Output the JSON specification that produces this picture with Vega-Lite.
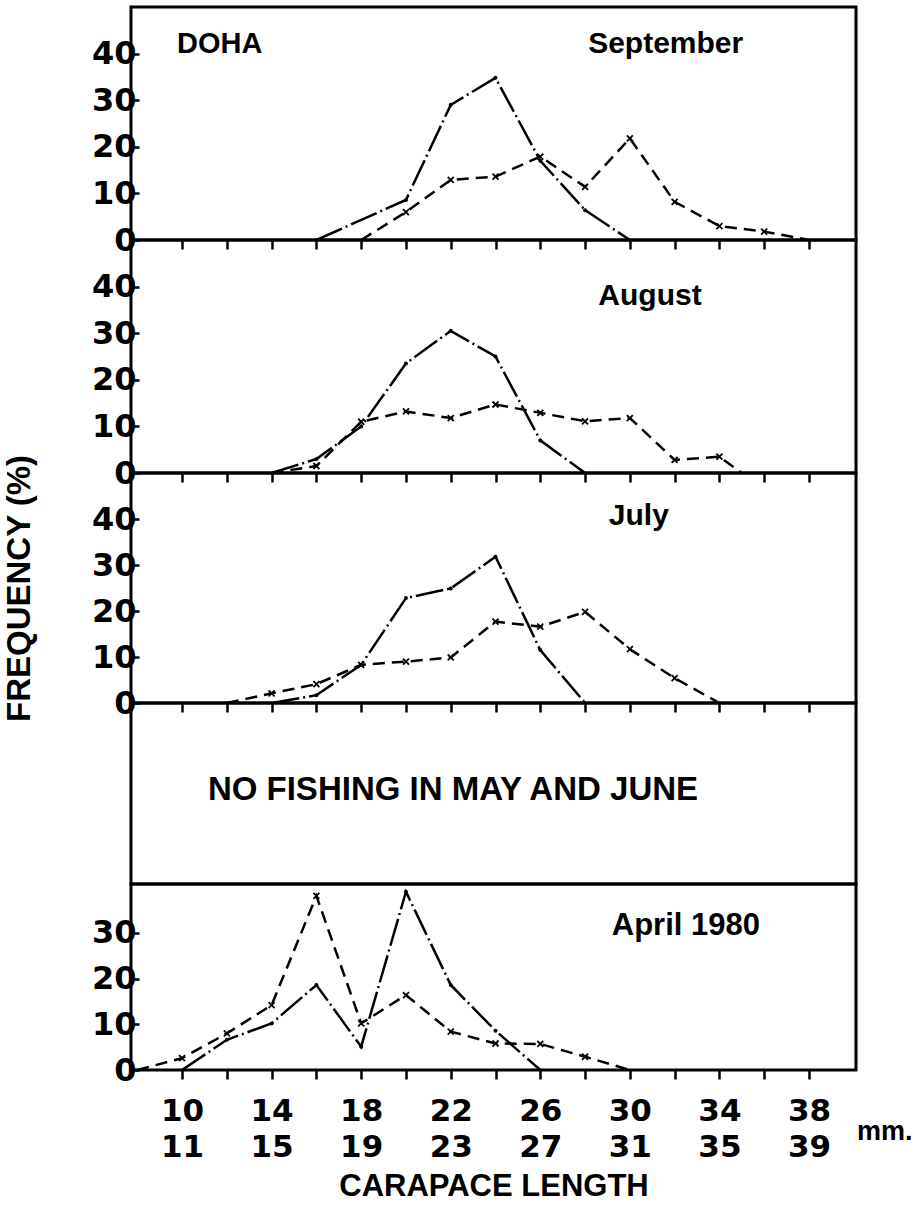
{
  "$schema": "https://vega.github.io/schema/vega-lite/v6.json",
  "background": "white",
  "padding": {"left": 1, "top": 5, "right": 0, "bottom": 0},
  "spacing": 0,
  "bounds": "flush",
  "config": {
    "view": {"stroke": "black", "strokeWidth": 3},
    "concat": {"spacing": 0},
    "axis": {
      "domain": false,
      "grid": false,
      "tickColor": "black",
      "tickWidth": 2.5,
      "labelColor": "black",
      "labelFont": "DejaVu Sans",
      "labelFontWeight": "bold",
      "labelFontSize": 32,
      "labelOverlap": false,
      "labelFlush": false,
      "titleColor": "black",
      "titleFont": "Liberation Sans",
      "titleFontWeight": "bold"
    },
    "line": {"color": "black", "strokeWidth": 2.5},
    "point": {"color": "black", "opacity": 1},
    "text": {"font": "Liberation Sans", "fontWeight": "bold", "fontSize": 30, "color": "black"}
  },
  "datasets": {
    "freq": [
      {"m": "Sep", "g": "a", "s": 16, "f": 0},
      {"m": "Sep", "g": "a", "s": 20, "f": 8.6},
      {"m": "Sep", "g": "a", "s": 22, "f": 29},
      {"m": "Sep", "g": "a", "s": 24, "f": 34.8},
      {"m": "Sep", "g": "a", "s": 26, "f": 17},
      {"m": "Sep", "g": "a", "s": 28, "f": 6.4},
      {"m": "Sep", "g": "a", "s": 30, "f": 0},
      {"m": "Sep", "g": "b", "s": 18, "f": 0},
      {"m": "Sep", "g": "b", "s": 20, "f": 6},
      {"m": "Sep", "g": "b", "s": 22, "f": 12.9},
      {"m": "Sep", "g": "b", "s": 24, "f": 13.6},
      {"m": "Sep", "g": "b", "s": 26, "f": 17.9},
      {"m": "Sep", "g": "b", "s": 28, "f": 11.4},
      {"m": "Sep", "g": "b", "s": 30, "f": 21.8},
      {"m": "Sep", "g": "b", "s": 32, "f": 8.2},
      {"m": "Sep", "g": "b", "s": 34, "f": 3},
      {"m": "Sep", "g": "b", "s": 36, "f": 1.8},
      {"m": "Sep", "g": "b", "s": 38, "f": 0},

      {"m": "Aug", "g": "a", "s": 14, "f": 0},
      {"m": "Aug", "g": "a", "s": 16, "f": 3},
      {"m": "Aug", "g": "a", "s": 18, "f": 10},
      {"m": "Aug", "g": "a", "s": 20, "f": 23.5},
      {"m": "Aug", "g": "a", "s": 22, "f": 30.5},
      {"m": "Aug", "g": "a", "s": 24, "f": 25},
      {"m": "Aug", "g": "a", "s": 26, "f": 7},
      {"m": "Aug", "g": "a", "s": 28, "f": 0},
      {"m": "Aug", "g": "b", "s": 14, "f": 0},
      {"m": "Aug", "g": "b", "s": 16, "f": 1.5},
      {"m": "Aug", "g": "b", "s": 18, "f": 11},
      {"m": "Aug", "g": "b", "s": 20, "f": 13.2},
      {"m": "Aug", "g": "b", "s": 22, "f": 11.8},
      {"m": "Aug", "g": "b", "s": 24, "f": 14.7},
      {"m": "Aug", "g": "b", "s": 26, "f": 12.9},
      {"m": "Aug", "g": "b", "s": 28, "f": 11.1},
      {"m": "Aug", "g": "b", "s": 30, "f": 11.8},
      {"m": "Aug", "g": "b", "s": 32, "f": 2.8},
      {"m": "Aug", "g": "b", "s": 34, "f": 3.5},
      {"m": "Aug", "g": "b", "s": 35, "f": 0},

      {"m": "Jul", "g": "a", "s": 14, "f": 0},
      {"m": "Jul", "g": "a", "s": 16, "f": 1.7},
      {"m": "Jul", "g": "a", "s": 18, "f": 8.3},
      {"m": "Jul", "g": "a", "s": 20, "f": 22.8},
      {"m": "Jul", "g": "a", "s": 22, "f": 24.9},
      {"m": "Jul", "g": "a", "s": 24, "f": 31.8},
      {"m": "Jul", "g": "a", "s": 26, "f": 11.5},
      {"m": "Jul", "g": "a", "s": 28, "f": 0},
      {"m": "Jul", "g": "b", "s": 12, "f": 0},
      {"m": "Jul", "g": "b", "s": 14, "f": 2.1},
      {"m": "Jul", "g": "b", "s": 16, "f": 4.1},
      {"m": "Jul", "g": "b", "s": 18, "f": 8.3},
      {"m": "Jul", "g": "b", "s": 20, "f": 9},
      {"m": "Jul", "g": "b", "s": 22, "f": 9.9},
      {"m": "Jul", "g": "b", "s": 24, "f": 17.7},
      {"m": "Jul", "g": "b", "s": 26, "f": 16.6},
      {"m": "Jul", "g": "b", "s": 28, "f": 19.8},
      {"m": "Jul", "g": "b", "s": 30, "f": 11.7},
      {"m": "Jul", "g": "b", "s": 32, "f": 5.4},
      {"m": "Jul", "g": "b", "s": 34, "f": 0},

      {"m": "Apr", "g": "a", "s": 10, "f": 0},
      {"m": "Apr", "g": "a", "s": 12, "f": 6.6},
      {"m": "Apr", "g": "a", "s": 14, "f": 10.2},
      {"m": "Apr", "g": "a", "s": 16, "f": 18.6},
      {"m": "Apr", "g": "a", "s": 18, "f": 5.1},
      {"m": "Apr", "g": "a", "s": 20, "f": 39},
      {"m": "Apr", "g": "a", "s": 22, "f": 18.6},
      {"m": "Apr", "g": "a", "s": 24, "f": 8.6},
      {"m": "Apr", "g": "a", "s": 26, "f": 0},
      {"m": "Apr", "g": "b", "s": 8, "f": 0},
      {"m": "Apr", "g": "b", "s": 10, "f": 2.6},
      {"m": "Apr", "g": "b", "s": 12, "f": 8},
      {"m": "Apr", "g": "b", "s": 14, "f": 14.2},
      {"m": "Apr", "g": "b", "s": 16, "f": 38.1},
      {"m": "Apr", "g": "b", "s": 18, "f": 10.2},
      {"m": "Apr", "g": "b", "s": 20, "f": 16.4},
      {"m": "Apr", "g": "b", "s": 22, "f": 8.4},
      {"m": "Apr", "g": "b", "s": 24, "f": 5.8},
      {"m": "Apr", "g": "b", "s": 26, "f": 5.7},
      {"m": "Apr", "g": "b", "s": 28, "f": 2.9},
      {"m": "Apr", "g": "b", "s": 30, "f": 0}
    ]
  },
  "vconcat": [
    {
      "width": 725,
      "height": 233,
      "layer": [
        {
          "data": {"name": "freq"},
          "transform": [{"filter": "datum.m == 'Sep'"}],
          "encoding": {
            "x": {"field": "s", "type": "quantitative",
                  "scale": {"domain": [7.72, 40.1], "nice": false, "zero": false},
                  "axis": {"values": [10,12,14,16,18,20,22,24,26,28,30,32,34,36,38], "labels": false, "tickSize": 9, "title": null}},
            "y": {"field": "f", "type": "quantitative",
                  "scale": {"domain": [0, 50], "nice": false},
                  "axis": {"values": [0,10,20,30,40], "tickSize": -8, "labelPadding": 3, "title": null}}
          },
          "layer": [
            {"transform": [{"filter": "datum.g == 'a'"}], "mark": {"type": "line", "strokeDash": [28, 4, 2, 4]}},
            {"transform": [{"filter": "datum.g == 'b'"}], "mark": {"type": "line", "strokeDash": [12, 7]}},
            {"transform": [{"filter": "datum.g == 'a' && datum.f > 0"}],
             "mark": {"type": "point", "shape": "circle", "filled": true, "size": 16}},
            {"transform": [{"filter": "datum.g == 'b' && datum.f > 0"}],
             "mark": {"type": "point", "shape": "M-1,-1L1,1M1,-1L-1,1", "filled": false, "size": 36, "strokeWidth": 1.8}}
          ]
        },
        {"data": {"values": [{}]},
         "mark": {"type": "text", "align": "left", "baseline": "alphabetic", "fontSize": 29},
         "encoding": {"x": {"datum": 9.78, "type": "quantitative"}, "y": {"datum": 40.2, "type": "quantitative"}, "text": {"value": "DOHA"}}},
        {"data": {"values": [{}]},
         "mark": {"type": "text", "align": "center", "baseline": "alphabetic", "fontSize": 30},
         "encoding": {"x": {"datum": 31.6, "type": "quantitative"}, "y": {"datum": 40.2, "type": "quantitative"}, "text": {"value": "September"}}}
      ]
    },
    {
      "width": 725,
      "height": 233,
      "layer": [
        {
          "data": {"name": "freq"},
          "transform": [{"filter": "datum.m == 'Aug'"}],
          "encoding": {
            "x": {"field": "s", "type": "quantitative",
                  "scale": {"domain": [7.72, 40.1], "nice": false, "zero": false},
                  "axis": {"values": [10,12,14,16,18,20,22,24,26,28,30,32,34,36,38], "labels": false, "tickSize": 9, "title": null}},
            "y": {"field": "f", "type": "quantitative",
                  "scale": {"domain": [0, 50], "nice": false},
                  "axis": {"values": [0,10,20,30,40], "tickSize": -8, "labelPadding": 3, "title": null}}
          },
          "layer": [
            {"transform": [{"filter": "datum.g == 'a'"}], "mark": {"type": "line", "strokeDash": [28, 4, 2, 4]}},
            {"transform": [{"filter": "datum.g == 'b'"}], "mark": {"type": "line", "strokeDash": [12, 7]}},
            {"transform": [{"filter": "datum.g == 'a' && datum.f > 0"}],
             "mark": {"type": "point", "shape": "circle", "filled": true, "size": 16}},
            {"transform": [{"filter": "datum.g == 'b' && datum.f > 0"}],
             "mark": {"type": "point", "shape": "M-1,-1L1,1M1,-1L-1,1", "filled": false, "size": 36, "strokeWidth": 1.8}}
          ]
        },
        {"data": {"values": [{}]},
         "mark": {"type": "text", "align": "center", "baseline": "alphabetic", "fontSize": 30},
         "encoding": {"x": {"datum": 30.9, "type": "quantitative"}, "y": {"datum": 36.1, "type": "quantitative"}, "text": {"value": "August"}}}
      ]
    },
    {
      "width": 725,
      "height": 230,
      "layer": [
        {
          "data": {"name": "freq"},
          "transform": [{"filter": "datum.m == 'Jul'"}],
          "encoding": {
            "x": {"field": "s", "type": "quantitative",
                  "scale": {"domain": [7.72, 40.1], "nice": false, "zero": false},
                  "axis": {"values": [10,12,14,16,18,20,22,24,26,28,30,32,34,36,38], "labels": false, "tickSize": 9, "title": null}},
            "y": {"field": "f", "type": "quantitative",
                  "scale": {"domain": [0, 50], "nice": false},
                  "axis": {"values": [0,10,20,30,40], "tickSize": -8, "labelPadding": 3,
                           "title": "FREQUENCY (%)", "titleFontSize": 33, "titlePadding": 55}}
          },
          "layer": [
            {"transform": [{"filter": "datum.g == 'a'"}], "mark": {"type": "line", "strokeDash": [28, 4, 2, 4]}},
            {"transform": [{"filter": "datum.g == 'b'"}], "mark": {"type": "line", "strokeDash": [12, 7]}},
            {"transform": [{"filter": "datum.g == 'a' && datum.f > 0"}],
             "mark": {"type": "point", "shape": "circle", "filled": true, "size": 16}},
            {"transform": [{"filter": "datum.g == 'b' && datum.f > 0"}],
             "mark": {"type": "point", "shape": "M-1,-1L1,1M1,-1L-1,1", "filled": false, "size": 36, "strokeWidth": 1.8}}
          ]
        },
        {"data": {"values": [{}]},
         "mark": {"type": "text", "align": "center", "baseline": "alphabetic", "fontSize": 30},
         "encoding": {"x": {"datum": 30.4, "type": "quantitative"}, "y": {"datum": 38.7, "type": "quantitative"}, "text": {"value": "July"}}}
      ]
    },
    {
      "width": 725,
      "height": 181,
      "data": {"values": [{}]},
      "mark": {"type": "text", "align": "center", "baseline": "middle", "fontSize": 33},
      "encoding": {
        "x": {"datum": 22.1, "type": "quantitative",
              "scale": {"domain": [7.72, 40.1], "nice": false, "zero": false}, "axis": null},
        "y": {"datum": 0.52, "type": "quantitative",
              "scale": {"domain": [0, 1], "nice": false}, "axis": null},
        "text": {"value": "NO FISHING IN MAY AND JUNE"}
      }
    },
    {
      "width": 725,
      "height": 186,
      "layer": [
        {
          "data": {"name": "freq"},
          "transform": [{"filter": "datum.m == 'Apr'"}],
          "encoding": {
            "x": {"field": "s", "type": "quantitative",
                  "scale": {"domain": [7.72, 40.1], "nice": false, "zero": false},
                  "axis": {"values": [10,12,14,16,18,20,22,24,26,28,30,32,34,36,38], "tickSize": 9,
                           "labelExpr": "datum.value % 4 == 2 ? [datum.label, '' + (datum.value + 1)] : ''",
                           "labelFontSize": 31, "labelLineHeight": 36, "labelPadding": 17, "labelBaseline": "top",
                           "title": "CARAPACE LENGTH", "titleFontSize": 31, "titlePadding": 9}},
            "y": {"field": "f", "type": "quantitative",
                  "scale": {"domain": [0, 40.7], "nice": false},
                  "axis": {"values": [0,10,20,30], "tickSize": -8, "labelPadding": 3, "title": null}}
          },
          "layer": [
            {"transform": [{"filter": "datum.g == 'a'"}], "mark": {"type": "line", "strokeDash": [28, 4, 2, 4]}},
            {"transform": [{"filter": "datum.g == 'b'"}], "mark": {"type": "line", "strokeDash": [12, 7]}},
            {"transform": [{"filter": "datum.g == 'a' && datum.f > 0"}],
             "mark": {"type": "point", "shape": "circle", "filled": true, "size": 16}},
            {"transform": [{"filter": "datum.g == 'b' && datum.f > 0"}],
             "mark": {"type": "point", "shape": "M-1,-1L1,1M1,-1L-1,1", "filled": false, "size": 36, "strokeWidth": 1.8}}
          ]
        },
        {"data": {"values": [{}]},
         "mark": {"type": "text", "align": "center", "baseline": "alphabetic", "fontSize": 31},
         "encoding": {"x": {"datum": 32.5, "type": "quantitative"}, "y": {"datum": 29.6, "type": "quantitative"}, "text": {"value": "April 1980"}}},
        {"data": {"values": [{}]},
         "mark": {"type": "text", "align": "left", "baseline": "middle", "fontSize": 27},
         "encoding": {"x": {"datum": 40.14, "type": "quantitative"}, "y": {"datum": -13.6, "type": "quantitative"}, "text": {"value": "mm."}}}
      ]
    }
  ]
}
